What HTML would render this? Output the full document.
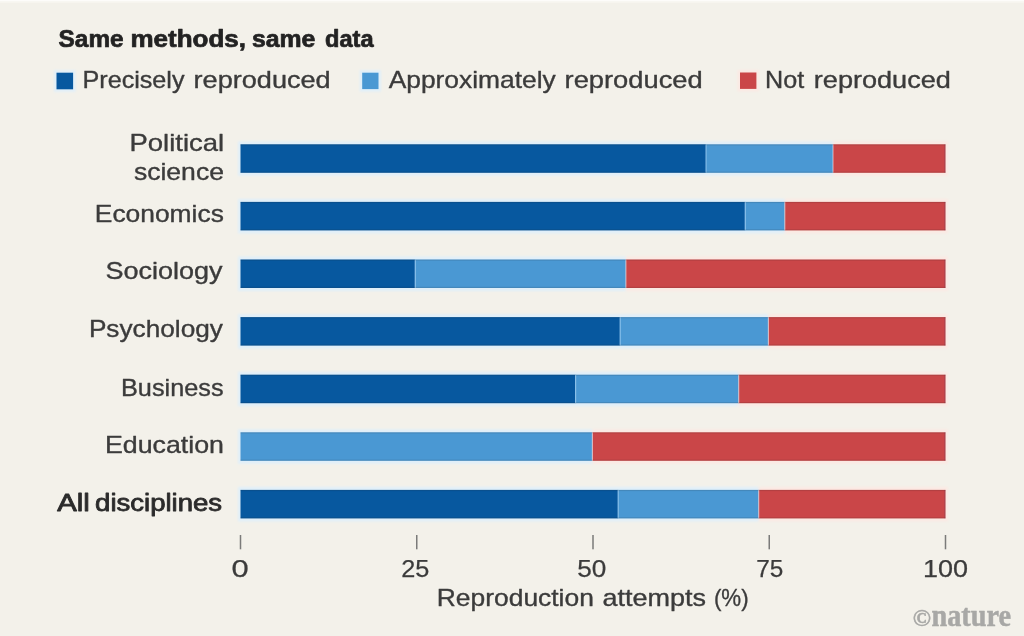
<!DOCTYPE html>
<html><head><meta charset="utf-8"><title>Same methods, same data</title>
<style>
html,body{margin:0;padding:0;background:#f3f1ea;}
body{width:1024px;height:636px;overflow:hidden;font-family:"Liberation Sans",sans-serif;}
svg{display:block}
text{font-family:"Liberation Sans",sans-serif;fill:#3b3b3b;stroke:#3b3b3b;stroke-width:0.35px;stroke-linejoin:round;}
.d{stroke-width:0.25px}
.sb{font-weight:normal;fill:#2c2c2c;stroke:#2c2c2c;stroke-width:0.8px}
.b{font-weight:bold;fill:#242424;stroke:#242424;stroke-width:0.7px}
.nat{font-family:"Liberation Serif",serif;font-weight:bold;fill:#a8a8a6;stroke:#a8a8a6;stroke-width:0.5px}
</style></head><body>
<svg width="1024" height="636" viewBox="0 0 1024 636">
<defs><filter id="tb" x="-5%" y="-20%" width="110%" height="140%"><feGaussianBlur stdDeviation="0.45"/></filter><filter id="bl" x="-5%" y="-30%" width="110%" height="160%"><feGaussianBlur stdDeviation="0.9"/></filter></defs>
<rect x="0" y="0" width="1024" height="636" fill="#f3f1ea"/>
<rect x="0" y="0" width="1024" height="1.6" fill="#fdfcfa"/>
<rect x="0" y="1.6" width="1024" height="1.2" fill="#f8f6f1"/>
<g filter="url(#bl)">
<rect x="54" y="70.2" width="21.6" height="21.6" fill="#e0eff9"/>
<rect x="359.7" y="70.2" width="21.3" height="21.4" fill="#e0eff9"/>
<rect x="737.5" y="70" width="21.4" height="21.4" fill="#fbe9e3"/>
<rect x="238.0" y="141.3" width="595.0" height="34.5" fill="#e0eff9"/>
<rect x="833" y="141.3" width="115.0" height="34.5" fill="#fbe9e3"/>
<rect x="238.0" y="198.9" width="546.8" height="34.5" fill="#e0eff9"/>
<rect x="784.8" y="198.9" width="163.2" height="34.5" fill="#fbe9e3"/>
<rect x="238.0" y="256.5" width="387.9" height="34.5" fill="#e0eff9"/>
<rect x="625.9" y="256.5" width="322.1" height="34.5" fill="#fbe9e3"/>
<rect x="238.0" y="314.1" width="530.4" height="34.5" fill="#e0eff9"/>
<rect x="768.4" y="314.1" width="179.6" height="34.5" fill="#fbe9e3"/>
<rect x="238.0" y="371.7" width="500.7" height="34.5" fill="#e0eff9"/>
<rect x="738.7" y="371.7" width="209.3" height="34.5" fill="#fbe9e3"/>
<rect x="238.0" y="429.3" width="354.4" height="34.5" fill="#e0eff9"/>
<rect x="592.4" y="429.3" width="355.6" height="34.5" fill="#fbe9e3"/>
<rect x="238.0" y="486.9" width="520.7" height="34.5" fill="#e0eff9"/>
<rect x="758.7" y="486.9" width="189.3" height="34.5" fill="#fbe9e3"/>
</g>
<rect x="56.5" y="72.7" width="16.6" height="16.6" fill="#07589f"/>
<rect x="362.2" y="72.7" width="16.3" height="16.4" fill="#4a98d3"/>
<rect x="740" y="72.5" width="16.4" height="16.4" fill="#ca4648"/>
<rect x="240.5" y="144.3" width="465.5" height="28.5" fill="#07589f"/>
<rect x="706" y="144.3" width="127.0" height="28.5" fill="#4a98d3"/>
<rect x="833" y="144.3" width="112.5" height="28.5" fill="#ca4648"/>
<rect x="705.4" y="144.3" width="1.2" height="28.5" fill="#9fd0f5" opacity="0.7"/>
<rect x="832.4" y="144.3" width="1.2" height="28.5" fill="#e8dde6" opacity="0.6"/>
<rect x="240.5" y="144.3" width="705.0" height="1.2" fill="#202020" opacity="0.13"/>
<rect x="240.5" y="171.6" width="705.0" height="1.2" fill="#202020" opacity="0.13"/>
<rect x="944.2" y="144.3" width="1.3" height="28.5" fill="#203060" opacity="0.16"/>
<rect x="240.5" y="201.9" width="504.7" height="28.5" fill="#07589f"/>
<rect x="745.2" y="201.9" width="39.6" height="28.5" fill="#4a98d3"/>
<rect x="784.8" y="201.9" width="160.7" height="28.5" fill="#ca4648"/>
<rect x="744.6" y="201.9" width="1.2" height="28.5" fill="#9fd0f5" opacity="0.7"/>
<rect x="784.2" y="201.9" width="1.2" height="28.5" fill="#e8dde6" opacity="0.6"/>
<rect x="240.5" y="201.9" width="705.0" height="1.2" fill="#202020" opacity="0.13"/>
<rect x="240.5" y="229.2" width="705.0" height="1.2" fill="#202020" opacity="0.13"/>
<rect x="944.2" y="201.9" width="1.3" height="28.5" fill="#203060" opacity="0.16"/>
<rect x="240.5" y="259.5" width="174.7" height="28.5" fill="#07589f"/>
<rect x="415.2" y="259.5" width="210.7" height="28.5" fill="#4a98d3"/>
<rect x="625.9" y="259.5" width="319.6" height="28.5" fill="#ca4648"/>
<rect x="414.6" y="259.5" width="1.2" height="28.5" fill="#9fd0f5" opacity="0.7"/>
<rect x="625.3" y="259.5" width="1.2" height="28.5" fill="#e8dde6" opacity="0.6"/>
<rect x="240.5" y="259.5" width="705.0" height="1.2" fill="#202020" opacity="0.13"/>
<rect x="240.5" y="286.8" width="705.0" height="1.2" fill="#202020" opacity="0.13"/>
<rect x="944.2" y="259.5" width="1.3" height="28.5" fill="#203060" opacity="0.16"/>
<rect x="240.5" y="317.1" width="379.6" height="28.5" fill="#07589f"/>
<rect x="620.1" y="317.1" width="148.3" height="28.5" fill="#4a98d3"/>
<rect x="768.4" y="317.1" width="177.1" height="28.5" fill="#ca4648"/>
<rect x="619.5" y="317.1" width="1.2" height="28.5" fill="#9fd0f5" opacity="0.7"/>
<rect x="767.8" y="317.1" width="1.2" height="28.5" fill="#e8dde6" opacity="0.6"/>
<rect x="240.5" y="317.1" width="705.0" height="1.2" fill="#202020" opacity="0.13"/>
<rect x="240.5" y="344.4" width="705.0" height="1.2" fill="#202020" opacity="0.13"/>
<rect x="944.2" y="317.1" width="1.3" height="28.5" fill="#203060" opacity="0.16"/>
<rect x="240.5" y="374.7" width="335.1" height="28.5" fill="#07589f"/>
<rect x="575.6" y="374.7" width="163.1" height="28.5" fill="#4a98d3"/>
<rect x="738.7" y="374.7" width="206.8" height="28.5" fill="#ca4648"/>
<rect x="575.0" y="374.7" width="1.2" height="28.5" fill="#9fd0f5" opacity="0.7"/>
<rect x="738.1" y="374.7" width="1.2" height="28.5" fill="#e8dde6" opacity="0.6"/>
<rect x="240.5" y="374.7" width="705.0" height="1.2" fill="#202020" opacity="0.13"/>
<rect x="240.5" y="402.0" width="705.0" height="1.2" fill="#202020" opacity="0.13"/>
<rect x="944.2" y="374.7" width="1.3" height="28.5" fill="#203060" opacity="0.16"/>
<rect x="240.5" y="432.3" width="351.9" height="28.5" fill="#4a98d3"/>
<rect x="592.4" y="432.3" width="353.1" height="28.5" fill="#ca4648"/>
<rect x="591.8" y="432.3" width="1.2" height="28.5" fill="#e8dde6" opacity="0.6"/>
<rect x="240.5" y="432.3" width="705.0" height="1.2" fill="#202020" opacity="0.13"/>
<rect x="240.5" y="459.6" width="705.0" height="1.2" fill="#202020" opacity="0.13"/>
<rect x="944.2" y="432.3" width="1.3" height="28.5" fill="#203060" opacity="0.16"/>
<rect x="240.5" y="489.9" width="377.6" height="28.5" fill="#07589f"/>
<rect x="618.1" y="489.9" width="140.6" height="28.5" fill="#4a98d3"/>
<rect x="758.7" y="489.9" width="186.8" height="28.5" fill="#ca4648"/>
<rect x="617.5" y="489.9" width="1.2" height="28.5" fill="#9fd0f5" opacity="0.7"/>
<rect x="758.1" y="489.9" width="1.2" height="28.5" fill="#e8dde6" opacity="0.6"/>
<rect x="240.5" y="489.9" width="705.0" height="1.2" fill="#202020" opacity="0.13"/>
<rect x="240.5" y="517.2" width="705.0" height="1.2" fill="#202020" opacity="0.13"/>
<rect x="944.2" y="489.9" width="1.3" height="28.5" fill="#203060" opacity="0.16"/>
<g id="ticks">
<rect x="239.75" y="535" width="1.5" height="14.3" fill="#6e6e6e" opacity="0.9"/>
<rect x="416.00" y="535" width="1.5" height="14.3" fill="#6e6e6e" opacity="0.9"/>
<rect x="592.25" y="535" width="1.5" height="14.3" fill="#6e6e6e" opacity="0.9"/>
<rect x="768.50" y="535" width="1.5" height="14.3" fill="#6e6e6e" opacity="0.9"/>
<rect x="944.75" y="535" width="1.5" height="14.3" fill="#6e6e6e" opacity="0.9"/>
</g>
<text filter="url(#tb)" class="b"><tspan x="58.60" y="47.2" font-size="23.2" textLength="65.02" lengthAdjust="spacingAndGlyphs">Same</tspan> <tspan x="130.50" y="47.2" font-size="23.2" textLength="115.53" lengthAdjust="spacingAndGlyphs">methods,</tspan> <tspan x="251.90" y="47.2" font-size="23.2" textLength="63.51" lengthAdjust="spacingAndGlyphs">same</tspan> <tspan x="325.10" y="47.2" font-size="23.2" textLength="48.51" lengthAdjust="spacingAndGlyphs">data</tspan></text>
<text filter="url(#tb)"><tspan x="82.50" y="87.6" font-size="23.4" textLength="102.02" lengthAdjust="spacingAndGlyphs">Precisely</tspan> <tspan x="193.60" y="87.6" font-size="23.4" textLength="137.06" lengthAdjust="spacingAndGlyphs">reproduced</tspan></text>
<text filter="url(#tb)"><tspan x="388.70" y="87.6" font-size="23.4" textLength="167.00" lengthAdjust="spacingAndGlyphs">Approximately</tspan> <tspan x="564.60" y="87.6" font-size="23.4" textLength="138.06" lengthAdjust="spacingAndGlyphs">reproduced</tspan></text>
<text filter="url(#tb)"><tspan x="765.00" y="87.6" font-size="23.4" textLength="39.14" lengthAdjust="spacingAndGlyphs">Not</tspan> <tspan x="813.80" y="87.6" font-size="23.4" textLength="137.07" lengthAdjust="spacingAndGlyphs">reproduced</tspan></text>
<text filter="url(#tb)"><tspan x="129.50" y="151.0" font-size="23.4" textLength="94.62" lengthAdjust="spacingAndGlyphs">Political</tspan> <tspan x="133.90" y="180.3" font-size="23.4" textLength="90.04" lengthAdjust="spacingAndGlyphs">science</tspan></text>
<text filter="url(#tb)" x="94.80" y="222.3" font-size="23.4" textLength="129.04" lengthAdjust="spacingAndGlyphs">Economics</text>
<text filter="url(#tb)" x="105.40" y="278.8" font-size="23.4" textLength="117.03" lengthAdjust="spacingAndGlyphs">Sociology</text>
<text filter="url(#tb)" x="88.90" y="337.4" font-size="23.4" textLength="134.03" lengthAdjust="spacingAndGlyphs">Psychology</text>
<text filter="url(#tb)" x="121.00" y="396" font-size="23.4" textLength="102.54" lengthAdjust="spacingAndGlyphs">Business</text>
<text filter="url(#tb)" x="104.90" y="452.8" font-size="23.4" textLength="119.12" lengthAdjust="spacingAndGlyphs">Education</text>
<text filter="url(#tb)" class="sb"><tspan x="57.30" y="510.8" font-size="23.5" textLength="32.57" lengthAdjust="spacingAndGlyphs">All</tspan> <tspan x="95.10" y="510.8" font-size="23.5" textLength="127.03" lengthAdjust="spacingAndGlyphs">disciplines</tspan></text>
<text filter="url(#tb)" x="231.40" y="576.6" font-size="24.5" class="d" textLength="17.17" lengthAdjust="spacingAndGlyphs">0</text>
<text filter="url(#tb)" x="401.30" y="576.6" font-size="24.5" class="d" textLength="28.15" lengthAdjust="spacingAndGlyphs">25</text>
<text filter="url(#tb)" x="577.30" y="576.6" font-size="24.5" class="d" textLength="29.10" lengthAdjust="spacingAndGlyphs">50</text>
<text filter="url(#tb)" x="756.30" y="576.6" font-size="24.5" class="d" textLength="27.11" lengthAdjust="spacingAndGlyphs">75</text>
<text filter="url(#tb)" x="923.00" y="576.6" font-size="24.5" class="d" textLength="45.10" lengthAdjust="spacingAndGlyphs">100</text>
<text filter="url(#tb)"><tspan x="436.80" y="606.3" font-size="23.4" textLength="157.06" lengthAdjust="spacingAndGlyphs">Reproduction</tspan> <tspan x="602.60" y="606.3" font-size="23.4" textLength="103.52" lengthAdjust="spacingAndGlyphs">attempts</tspan> <tspan x="713.90" y="606.3" font-size="23.4" textLength="34.70" lengthAdjust="spacingAndGlyphs">(%)</tspan></text>
<text filter="url(#tb)" class="nat"><tspan x="912.80" y="626.3" font-size="23.5" textLength="18.17" lengthAdjust="spacingAndGlyphs">©</tspan><tspan x="931.50" y="626" font-size="32" textLength="79.51" lengthAdjust="spacingAndGlyphs">nature</tspan></text>
</svg></body></html>
